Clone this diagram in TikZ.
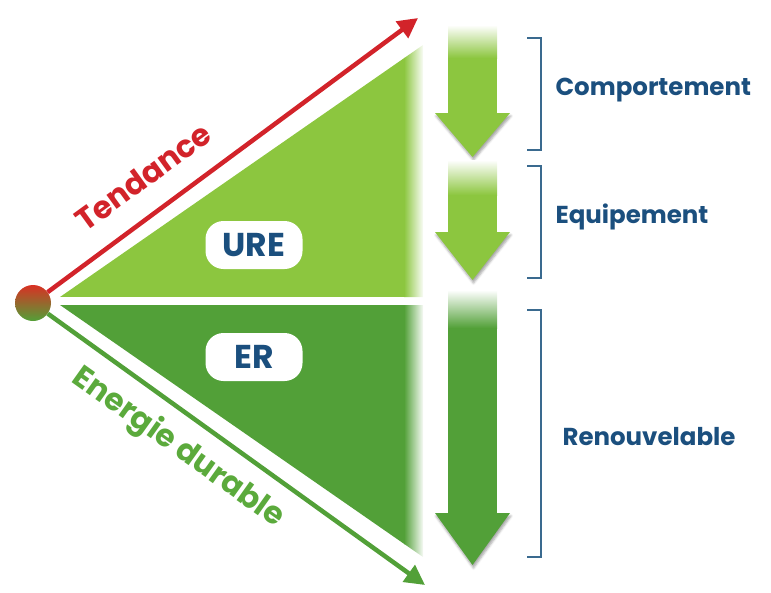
\documentclass[tikz,border=0pt]{standalone}
\usepackage{fontspec}
\setmainfont{Poppins}
\usetikzlibrary{arrows.meta,positioning,shadows.blur}

\definecolor{lgreen}{HTML}{8CC63F}
\definecolor{dgreen}{HTML}{52A038}
\definecolor{tred}{HTML}{D2232A}
\definecolor{tgreen}{HTML}{5BAA3C}
\definecolor{ureblue}{HTML}{1B4F7E}
\definecolor{brkblue}{HTML}{3A6A8F}

\begin{document}
\begin{tikzpicture}[x=1pt,y=-1pt]
  \tikzstyle{tag}=[fill=white, rounded corners=18pt, minimum width=97pt, minimum height=48pt, text=ureblue, font=\bfseries\fontsize{33}{33}\selectfont]
  \tikzstyle{lbl}=[anchor=west, text=ureblue, font=\bfseries\fontsize{24.5}{24.5}\selectfont]
  \tikzstyle{brk}=[draw=brkblue, line width=2.5pt]
  \tikzstyle{axis}=[line width=4.5pt, -{Triangle[length=20pt,width=20pt]}]
  \tikzstyle{head}=[blur shadow={shadow xshift=1pt, shadow yshift=-3pt, shadow opacity=35}]

  \useasboundingbox (0,0) rectangle (771,592);

  % triangles, faded on the right
  \begin{scope}
    \clip (60,297) -- (423,45) -- (423,297) -- cycle;
    \fill[lgreen] (60,40) rectangle (405,297);
    \shade[left color=lgreen, right color=white] (404,40) rectangle (424,297);
  \end{scope}
  \begin{scope}
    \clip (60,305) -- (423,305) -- (423,557) -- cycle;
    \fill[dgreen] (60,305) rectangle (405,560);
    \shade[left color=dgreen, right color=white] (404,305) rectangle (424,560);
  \end{scope}

  % down arrows
  \shade[top color=white, bottom color=lgreen] (448,25) rectangle (497,58);
  \fill[lgreen] (448,58) rectangle (497,114);
  \fill[lgreen, head] (435,113) -- (510,113) -- (472.5,157) -- cycle;

  \shade[top color=white, bottom color=lgreen] (448,160) rectangle (497,195);
  \fill[lgreen] (448,195) rectangle (497,233);
  \fill[lgreen, head] (435,232) -- (510,232) -- (472.5,280) -- cycle;

  \shade[top color=white, bottom color=dgreen] (448,290) rectangle (497,328);
  \fill[dgreen] (448,328) rectangle (497,514);
  \fill[dgreen, head] (435,513) -- (510,513) -- (472.5,565) -- cycle;

  % brackets
  \draw[brk] (527,38) -- (541,38) -- (541,150) -- (527,150);
  \draw[brk] (527,166) -- (541,166) -- (541,278) -- (527,278);
  \draw[brk] (527,310) -- (541,310) -- (541,557) -- (527,557);

  \node[lbl] (comp) at (552,90) {Comportement};
  \node[lbl] (equi) at (552,217) {Equipement};
  \node[lbl] (renou) at (559,437) {Renouvelable};

  \node[tag] (ure) at (254,245) {URE};
  \node[tag] (er) at (254,357) {ER};

  % origin and axes
  \node[circle, minimum size=36pt, inner sep=0pt, top color=tred!85!orange, bottom color=dgreen] (dot) at (33,303) {};
  \coordinate (up) at (418,18);
  \coordinate (down) at (425,585);
  \draw[axis, draw=tred, fill=tred] (dot) -- (up);
  \draw[axis, draw=dgreen, fill=dgreen] (dot) -- (down);

  \node[rotate=36, text=tred, font=\bfseries\fontsize{31}{31}\selectfont] (tend) at (143,177) {Tendance};
  \node[rotate=-35.5, text=tgreen, font=\bfseries\fontsize{31}{31}\selectfont] (ener) at (178,448) {Energie durable};
\end{tikzpicture}
\end{document}
